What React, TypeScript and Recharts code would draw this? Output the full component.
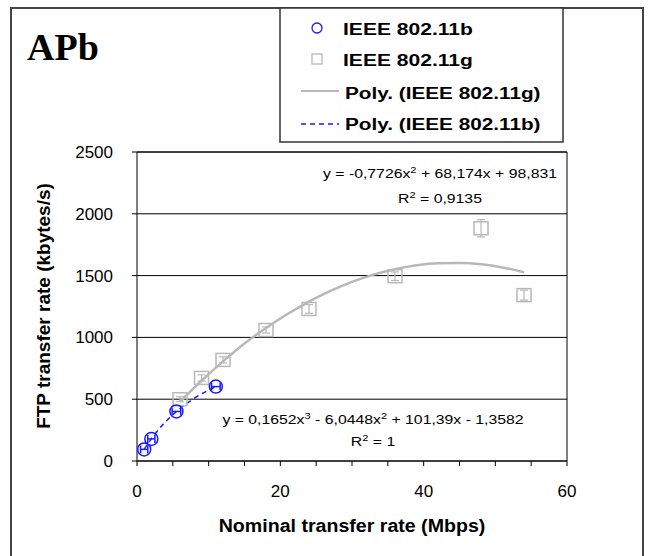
import {
  ComposedChart,
  Scatter,
  Line,
  XAxis,
  YAxis,
  CartesianGrid,
  ErrorBar,
  ReferenceLine,
} from "recharts";

// IEEE 802.11b measurements
const bRates = [1, 2, 5.5, 11];
const bThroughput = [94, 179, 401, 602];
const bError = [0.5, 0.5, 0.6, 0.6];

// IEEE 802.11g measurements
const gRates = [6, 9, 12, 18, 24, 36, 48, 54];
const gThroughput = [500, 672, 818, 1060, 1230, 1495, 1883, 1342];
const gError = [20, 25, 25, 25, 35, 35, 70, 40];

// trend lines
const gTrendX = [6, 9, 12, 15, 18, 21, 24, 27, 30, 33, 36, 39, 42, 45, 48, 51, 54];
const gTrendY = [480, 649, 806, 951, 1076, 1189, 1290, 1376, 1449, 1508, 1552, 1583, 1599, 1601, 1591, 1566, 1527];
const bTrendX = [1, 2, 3.5, 5.5, 8, 11];
const bTrendY = [94, 179, 287, 401, 508, 602];

const xTicks = [0, 5, 10, 15, 20, 25, 30, 35, 40, 45, 50, 55, 60];
const yTicks = [0, 500, 1000, 1500, 2000, 2500];

const bData = bRates.map((x, i) => ({ x, y: bThroughput[i], err: bError[i] }));
const gData = gRates.map((x, i) => ({ x, y: gThroughput[i], err: gError[i] }));
const gTrend = gTrendX.map((x, i) => ({ x, y: gTrendY[i] }));
const bTrend = bTrendX.map((x, i) => ({ x, y: bTrendY[i] }));

const SANS = "'Liberation Sans', Arial, sans-serif";
const BLUE = "#1a1aff";
const GREY = "#b8b8b8";

const Circle = (p: any) => (
  <circle cx={p.cx} cy={p.cy} r={6.5} fill="none" stroke={BLUE} strokeWidth={1.5} />
);
const Square = (p: any) => (
  <rect x={p.cx - 7} y={p.cy - 6.5} width={14} height={13} fill="none" stroke={GREY} strokeWidth={1.5} />
);

function St({ x, y, sx = 1.2, size, weight = "normal", anchor = "start", children }: any) {
  return (
    <text
      transform={`translate(${x},${y}) scale(${sx},1)`}
      fontFamily={SANS}
      fontSize={size}
      fontWeight={weight}
      textAnchor={anchor}
      fill="#000"
    >
      {children}
    </text>
  );
}

export default function App() {
  return (
    <div style={{ position: "absolute", left: 0, top: 0, width: 649, height: 556, overflow: "hidden", background: "#fff" }}>
      <div style={{ position: "absolute", left: 10, top: 7, width: 630, height: 560, border: "2px solid #444" }} />
      <div style={{ position: "absolute", left: 0, top: 0 }}>
        <ComposedChart width={649} height={556} margin={{ top: 152, right: 82, bottom: 65, left: 77 }}>
          <CartesianGrid horizontal vertical={false} stroke="#000" strokeOpacity={1} />
          <XAxis
            type="number"
            dataKey="x"
            domain={[0, 60]}
            ticks={xTicks}
            interval={0}
            height={30}
            tickSize={5}
            tickMargin={19}
            tickFormatter={(v: number) => (v % 20 === 0 ? String(v) : "")}
            stroke="#000"
            tick={{ fontFamily: SANS, fontSize: 17, fill: "#000" }}
            allowDataOverflow
          />
          <YAxis
            type="number"
            dataKey="y"
            domain={[0, 2500]}
            ticks={yTicks}
            interval={0}
            width={60}
            tickSize={5}
            tickMargin={19}
            stroke="#000"
            tick={{ fontFamily: SANS, fontSize: 17, fill: "#000" }}
          />
          <ReferenceLine x={60} stroke="#000" />
          <ReferenceLine y={2500} stroke="#000" />
          <Line data={gTrend} dataKey="y" type="monotone" stroke={GREY} strokeWidth={2.5} dot={false} isAnimationActive={false} />
          <Scatter data={gData} dataKey="y" shape={Square} isAnimationActive={false}>
            <ErrorBar dataKey="err" direction="y" width={4} stroke={GREY} strokeWidth={1.2} />
          </Scatter>
          <Line data={bTrend} dataKey="y" type="monotone" stroke={BLUE} strokeWidth={1.5} strokeDasharray="5 4" dot={false} isAnimationActive={false} />
          <Scatter data={bData} dataKey="y" shape={Circle} isAnimationActive={false}>
            <ErrorBar dataKey="err" direction="x" width={4} stroke={BLUE} strokeWidth={1.5} />
          </Scatter>
        </ComposedChart>
      </div>
      <svg width={649} height={556} style={{ position: "absolute", left: 0, top: 0, pointerEvents: "none" }}>
        <text x={27} y={60} fontFamily="'Liberation Serif', 'Times New Roman', serif" fontSize={38} fontWeight="bold" fill="#000">
          APb
        </text>

        <rect x={280} y={8} width={283} height={134} fill="#fff" stroke="#333" strokeWidth={1.5} />
        <circle cx={317} cy={28} r={5} fill="none" stroke={BLUE} strokeWidth={1.3} />
        <St x={343} y={35} size={17} sx={1.24} weight="bold">IEEE 802.11b</St>
        <rect x={312} y={54} width={10} height={10} fill="none" stroke={GREY} strokeWidth={1.3} />
        <St x={343} y={66} size={17} sx={1.24} weight="bold">IEEE 802.11g</St>
        <line x1={301} y1={91} x2={339} y2={91} stroke={GREY} strokeWidth={2} />
        <St x={345} y={99} size={17} sx={1.22} weight="bold">Poly. (IEEE 802.11g)</St>
        <line x1={301} y1={124} x2={339} y2={124} stroke={BLUE} strokeWidth={1.5} strokeDasharray="5 4" />
        <St x={345} y={130} size={17} sx={1.22} weight="bold">Poly. (IEEE 802.11b)</St>

        <St x={440} y={178} size={13.5} sx={1.17} anchor="middle">
          y = -0,7726x<tspan dy={-5} fontSize={9.5}>2</tspan>
          <tspan dy={5}> + 68,174x + 98,831</tspan>
        </St>
        <St x={440} y={203} size={13.5} sx={1.17} anchor="middle">
          R<tspan dy={-5} fontSize={9.5}>2</tspan>
          <tspan dy={5}> = 0,9135</tspan>
        </St>
        <St x={373} y={424} size={13.5} sx={1.17} anchor="middle">
          y = 0,1652x<tspan dy={-5} fontSize={9.5}>3</tspan>
          <tspan dy={5}> - 6,0448x</tspan>
          <tspan dy={-5} fontSize={9.5}>2</tspan>
          <tspan dy={5}> + 101,39x - 1,3582</tspan>
        </St>
        <St x={373} y={446} size={13.5} sx={1.17} anchor="middle">
          R<tspan dy={-5} fontSize={9.5}>2</tspan>
          <tspan dy={5}> = 1</tspan>
        </St>

        <St x={352} y={532} size={17.5} sx={1.12} weight="bold" anchor="middle">
          Nominal transfer rate (Mbps)
        </St>
        <text
          transform="translate(50,306) rotate(-90)"
          fontFamily={SANS}
          fontSize={19}
          fontWeight="bold"
          textAnchor="middle"
          fill="#000"
        >
          FTP transfer rate (kbytes/s)
        </text>
      </svg>
    </div>
  );
}
